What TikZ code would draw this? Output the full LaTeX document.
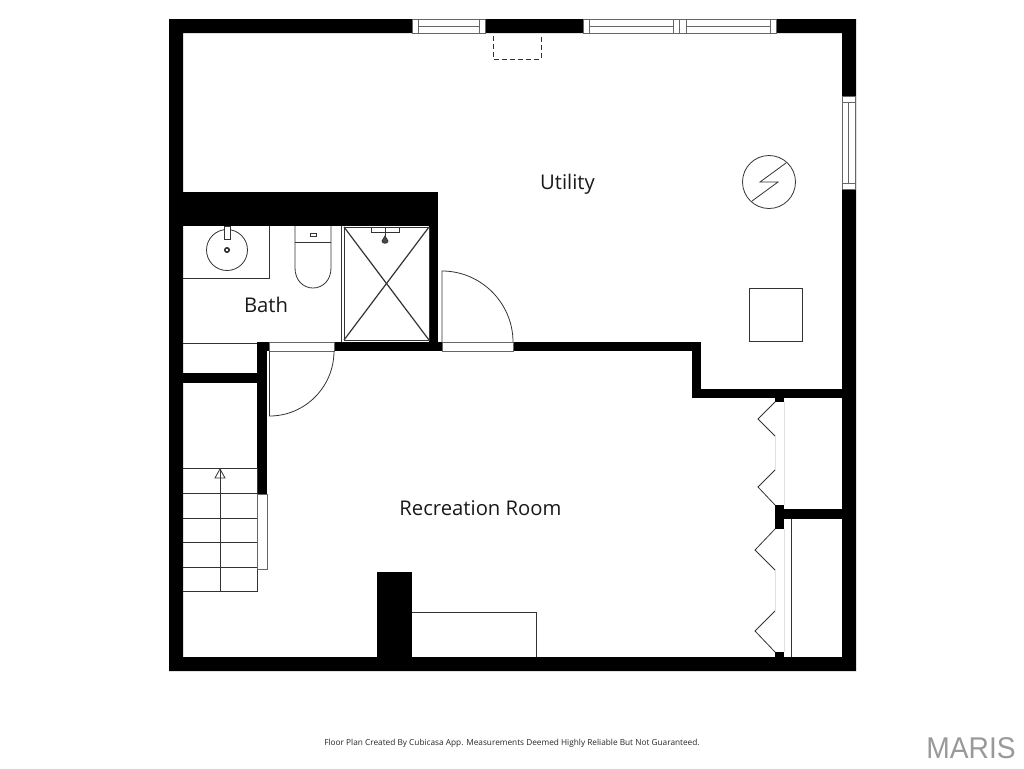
\documentclass[tikz,border=0pt]{standalone}
\usepackage{fontspec}
\setmainfont{Open Sans}
\newfontfamily\logofont{Liberation Sans}
\tikzset{
  wall/.style={fill=black,draw=none},
  fixture/.style={draw=black!80,line width=0.6pt},
  frame/.style={draw=black!60,fill=white,line width=0.6pt},
  faint/.style={draw=black!12,line width=0.5pt},
  roomlabel/.style={font=\fontsize{15.2}{18}\selectfont,text=black!90,inner sep=0pt},
}
\begin{document}
\begin{tikzpicture}[x=0.75pt,y=-0.75pt]
  \useasboundingbox (0,0) rectangle (1024,768);
  % walls
  \fill[wall,even odd rule] (169,19) rectangle (856,671) (183,33) rectangle (842,657);
  \fill[wall] (183,192) rectangle (438,226);
  \fill[wall] (429,226) rectangle (438,342);
  \fill[wall] (334,342) rectangle (442,351);
  \fill[wall] (257,342) rectangle (269,351);
  \fill[wall] (257,351) rectangle (267,494);
  \fill[wall] (183,373) rectangle (257,383);
  \fill[wall] (513,342) rectangle (701,351);
  \fill[wall] (692,351) rectangle (701,389);
  \fill[wall] (692,389) rectangle (842,398);
  \fill[wall] (775,398) rectangle (784,402);
  \fill[wall] (775,505) rectangle (784,529);
  \fill[wall] (784,509) rectangle (842,519);
  \fill[wall] (775,652) rectangle (784,657);
  \fill[wall] (377,572) rectangle (412,657);
  % windows
  \draw[frame] (412,19) rectangle (485,33);
  \draw[frame] (583,19) rectangle (679,33);
  \draw[frame] (679,19) rectangle (776,33);
  \draw[frame] (842,96) rectangle (855,189);
  \foreach \xa in {418,479,589,673,686,770}
    \draw[frame] (\xa,19) -- (\xa,33);
  \draw[frame] (418,26) -- (479,26);
  \draw[frame] (589,26) -- (673,26);
  \draw[frame] (686,26) -- (770,26);
  \draw[frame] (842,102) -- (855,102);
  \draw[frame] (842,183) -- (855,183);
  \draw[frame] (848.5,102) -- (848.5,183);
  % hatch under the top wall
  \draw[fixture,dash pattern=on 3.5pt off 2.5pt] (493,36) -- (493,59) -- (541,59) -- (541,36);
  % bath
  \draw[fixture] (183,278) -- (269,278) -- (269,226);
  \draw[fixture] (227,250) circle[radius=20.5];
  \draw[fixture,line width=1.2pt] (227,250) circle[radius=2.2];
  \draw[fixture,fill=white] (224.5,226) rectangle (230.5,239);
  \draw[fixture] (295,226) -- (295,268) .. controls (295,280) and (303,288) .. (313,288)
    .. controls (323,288) and (331,280) .. (331,268) -- (331,226);
  \draw[fixture] (295,242) -- (331,242);
  \draw[fixture] (310,233) rectangle (316,236);
  \draw[fixture] (341,226) -- (341,342);
  \draw[fixture] (344,227) rectangle (429,340);
  \draw[fixture,line width=0.9pt] (344,227) -- (429,340);
  \draw[fixture,line width=0.9pt] (429,227) -- (344,340);
  \draw[fixture] (371,227) rectangle (399,232);
  \draw[fixture] (385,227) -- (385,236);
  \draw[fixture,fill=black!70] (385,236) -- (388,241) .. controls (388,244) and (382,244) .. (382,241) -- cycle;
  \draw[fixture] (183,343) -- (257,343);
  % doors
  \draw[frame] (269,342) rectangle (334,351);
  \draw[fixture] (269.5,351) -- (269.5,416) .. controls (305,416) and (334,387) .. (334,351);
  \draw[frame] (442,342) rectangle (513,351);
  \draw[fixture] (442,342) -- (442,271) .. controls (481,271) and (513,303) .. (513,342);
  % stairs
  \draw[fixture] (183,468) -- (257,468) -- (257,591.5) -- (183,591.5);
  \foreach \ya in {493,518,542,567}
    \draw[fixture] (183,\ya) -- (257,\ya);
  \draw[fixture] (220,591.5) -- (220,469);
  \draw[fixture] (215,478) -- (220,469) -- (225,478) -- cycle;
  \draw[frame] (257,494) rectangle (267,569);
  % utility equipment
  \draw[fixture] (769,182) circle[radius=26.5];
  \draw[fixture] (786,163) -- (760,182) -- (778,182) -- (752,201);
  \draw[fixture] (749,288) rectangle (802,341);
  % closet doors
  \draw[faint] (775,436) -- (775,470);
  \draw[faint] (784,402) -- (784,505);
  \draw[faint] (775,570) -- (775,611);
  \draw[faint] (784,529) -- (784,652);
  \draw[fixture] (775,402) -- (758,419) -- (775,436);
  \draw[fixture] (775,470) -- (758,487) -- (775,505);
  \draw[fixture] (775,529) -- (755,550) -- (775,570);
  \draw[fixture] (775,611) -- (755,631) -- (775,652);
  \draw[fixture] (791.5,519) -- (791.5,657);
  % built in shelf
  \draw[fixture] (412,612) -- (536,612) -- (536,657);
  % labels
  \node[roomlabel] (utility) at (567.5,184) {Utility};
  \node[roomlabel] (bath) at (266,305) {Bath};
  \node[roomlabel] (recroom) at (480.5,508) {Recreation Room};
  \node[inner sep=0pt,font=\fontsize{6.2}{8}\selectfont,text=black!85] (credit) at (512,743)
    {Floor Plan Created By Cubicasa App. Measurements Deemed Highly Reliable But Not Guaranteed.};
  \node[inner sep=0pt,font=\logofont\fontsize{22.5}{24}\selectfont,text=black!40,transform shape,xscale=0.94] (logo) at (971,748.5) {MARIS};
\end{tikzpicture}
\end{document}
